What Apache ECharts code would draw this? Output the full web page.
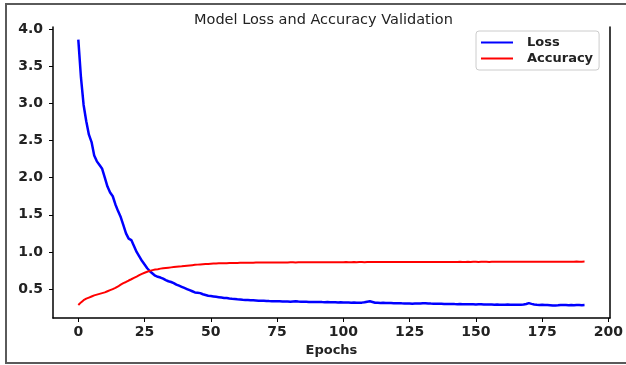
<!DOCTYPE html>
<html><head><meta charset="utf-8">
<script src="https://cdn.jsdelivr.net/npm/echarts@6/dist/echarts.min.js"></script>
<style>html,body{margin:0;padding:0;background:#fff}#c{width:626px;height:365px}</style>
</head><body><div id="c"></div>
<script>
const titleText = "Model Loss and Accuracy Validation";
const xName = "Epochs";
const seriesNames = ["Loss", "Accuracy"];
const xTicks = [0, 25, 50, 75, 100, 125, 150, 175, 200];
const yTicks = [0.5, 1.0, 1.5, 2.0, 2.5, 3.0, 3.5, 4.0];

const lossValues = [
3.86,3.35,2.98,2.76,2.58,2.48,2.30,2.22,2.17,2.12,
2.00,1.88,1.80,1.75,1.64,1.55,1.47,1.36,1.25,1.18,
1.16,1.08,1.00,0.94,0.88,0.83,0.78,0.74,0.71,0.68,
0.665,0.655,0.64,0.62,0.605,0.595,0.58,0.56,0.545,0.53,
0.515,0.50,0.485,0.47,0.455,0.45,0.445,0.43,0.42,0.41,
0.405,0.40,0.395,0.39,0.385,0.38,0.378,0.372,0.368,0.365,
0.362,0.36,0.356,0.354,0.352,0.35,0.348,0.346,0.344,0.343,
0.342,0.34,0.338,0.337,0.336,0.335,0.334,0.333,0.332,0.331,
0.33,0.333,0.335,0.331,0.33,0.328,0.329,0.327,0.326,0.327,
0.325,0.326,0.324,0.323,0.325,0.322,0.321,0.322,0.32,0.321,
0.32,0.318,0.319,0.317,0.318,0.316,0.315,0.317,0.322,0.33,
0.335,0.325,0.315,0.314,0.313,0.314,0.312,0.311,0.312,0.31,
0.309,0.31,0.308,0.307,0.306,0.305,0.302,0.304,0.306,0.305,
0.308,0.309,0.306,0.304,0.303,0.302,0.301,0.302,0.30,0.299,
0.298,0.299,0.297,0.296,0.297,0.295,0.296,0.294,0.295,0.294,
0.293,0.294,0.295,0.293,0.292,0.291,0.292,0.29,0.291,0.29,
0.289,0.29,0.291,0.29,0.289,0.29,0.288,0.289,0.291,0.298,
0.31,0.30,0.293,0.288,0.285,0.287,0.284,0.286,0.283,0.28,
0.279,0.281,0.284,0.286,0.285,0.283,0.284,0.282,0.285,0.284,
0.283,0.285
];

const accValues = [
0.285,0.32,0.35,0.37,0.385,0.40,0.415,0.425,0.435,0.445,
0.455,0.47,0.485,0.50,0.515,0.535,0.56,0.58,0.595,0.615,
0.632,0.65,0.668,0.688,0.705,0.72,0.733,0.745,0.755,0.762,
0.768,0.775,0.78,0.784,0.788,0.792,0.796,0.80,0.803,0.806,
0.81,0.814,0.818,0.822,0.826,0.829,0.832,0.835,0.837,0.839,
0.841,0.843,0.845,0.846,0.847,0.848,0.849,0.85,0.851,0.852,
0.852,0.853,0.853,0.854,0.854,0.855,0.855,0.856,0.856,0.856,
0.857,0.857,0.857,0.858,0.858,0.858,0.858,0.859,0.859,0.859,
0.86,0.86,0.859,0.86,0.861,0.86,0.86,0.861,0.861,0.86,
0.861,0.861,0.862,0.861,0.861,0.862,0.862,0.861,0.862,0.862,
0.862,0.863,0.862,0.862,0.863,0.862,0.863,0.863,0.862,0.863,
0.863,0.864,0.863,0.863,0.864,0.863,0.864,0.864,0.863,0.864,
0.864,0.864,0.865,0.864,0.864,0.865,0.864,0.865,0.865,0.864,
0.865,0.865,0.866,0.865,0.865,0.865,0.866,0.865,0.866,0.866,
0.865,0.866,0.866,0.866,0.867,0.866,0.866,0.867,0.866,0.867,
0.867,0.866,0.867,0.867,0.867,0.866,0.867,0.867,0.868,0.867,
0.867,0.868,0.867,0.867,0.868,0.868,0.867,0.868,0.868,0.867,
0.868,0.868,0.868,0.869,0.868,0.868,0.869,0.868,0.868,0.869,
0.869,0.868,0.869,0.869,0.868,0.869,0.869,0.869,0.87,0.869,
0.869,0.87
];

const chart = echarts.init(document.getElementById('c'), null, {renderer: 'canvas'});
const FONT = '"DejaVu Sans", sans-serif';
const tickLabelStyle = {fontFamily: FONT, fontSize: 14, fontWeight: 'bold', color: '#222'};

chart.setOption({
  animation: false,
  backgroundColor: '#fff',
  title: {
    text: titleText, left: 189, top: 8,
    textStyle: {fontFamily: FONT, fontSize: 14.5, fontWeight: 'normal', color: '#222'}
  },
  legend: {
    orient: 'vertical', left: 476, top: 31,
    padding: [5, 6, 5, 5], itemGap: 3, itemWidth: 32, itemHeight: 2,
    icon: 'rect',
    borderColor: '#cccccc', borderWidth: 1, borderRadius: 3,
    textStyle: {fontFamily: FONT, fontSize: 13, fontWeight: 'bold', color: '#222', lineHeight: 13, padding: [0, 0, 0, 9]},
    data: seriesNames
  },
  graphic: [{
    type: 'rect', silent: true, z: -1,
    shape: {x: 6, y: 4, width: 640, height: 359},
    style: {fill: 'none', stroke: '#5a5a5a', lineWidth: 2}
  }],
  grid: {left: 53, right: 15, top: 27, bottom: 47},
  xAxis: {
    type: 'value', min: -9.55, max: 200.55,
    name: xName, nameLocation: 'middle', nameGap: 20,
    nameTextStyle: {fontFamily: FONT, fontSize: 13, fontWeight: 'bold', color: '#222'},
    axisLine: {show: true, onZero: false, lineStyle: {color: '#000', width: 1.5}},
    axisTick: {show: true, length: 4, customValues: xTicks, lineStyle: {color: '#000', width: 1}},
    axisLabel: Object.assign({margin: 7, customValues: xTicks}, tickLabelStyle),
    splitLine: {show: false}
  },
  yAxis: [{
    type: 'value', min: 0.11, max: 4.03,
    axisLine: {show: true, onZero: false, lineStyle: {color: '#000', width: 1.5}},
    axisTick: {show: true, length: 4, customValues: yTicks, lineStyle: {color: '#000', width: 1}},
    axisLabel: Object.assign({margin: 10, customValues: yTicks, formatter: v => v.toFixed(1)}, tickLabelStyle),
    splitLine: {show: false}
  }, {
    type: 'value', min: 0.11, max: 4.03, position: 'right',
    axisLine: {show: true, onZero: false, lineStyle: {color: '#000', width: 1.5}},
    axisTick: {show: false}, axisLabel: {show: false}, splitLine: {show: false}
  }],
  series: [{
    name: seriesNames[0], type: 'line', symbol: 'none', color: '#0000ff',
    lineStyle: {color: '#0000ff', width: 2.5},
    data: lossValues.map((v, i) => [i, v])
  }, {
    name: seriesNames[1], type: 'line', symbol: 'none', color: '#ff0000',
    lineStyle: {color: '#ff0000', width: 2},
    data: accValues.map((v, i) => [i, v])
  }]
});
</script>
</body></html>
